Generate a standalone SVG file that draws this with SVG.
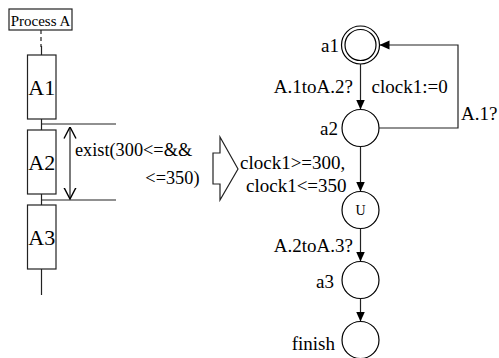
<svg xmlns="http://www.w3.org/2000/svg" width="499" height="358" viewBox="0 0 499 358">
  <defs>
    <marker id="arrowFill" viewBox="0 0 10 10" refX="10" refY="5" markerWidth="10" markerHeight="10" markerUnits="userSpaceOnUse" orient="auto">
      <path d="M0,0.5 L10,5 L0,9.5 Z" fill="#000"/>
    </marker>
    <marker id="arrowOpen" viewBox="0 0 12 14" refX="11.5" refY="7" markerWidth="12" markerHeight="14" markerUnits="userSpaceOnUse" orient="auto-start-reverse">
      <path d="M0,1 L11.5,7 L0,13" fill="none" stroke="#000" stroke-width="1.4"/>
    </marker>
  </defs>
  <style>
    .ln { stroke: #222; stroke-width: 1.2; fill: none; }
    .box { fill: #fff; stroke: #222; stroke-width: 1.2; }
    .st { fill: #fff; stroke: #000; stroke-width: 1.2; }
    .t { font-family: "Liberation Serif", "Times New Roman", serif; fill: #000; }
    .big { font-size: 22px; }
    .lab { font-size: 19px; }
    .sm { font-size: 14px; }
    .end { text-anchor: end; }
    .mid { text-anchor: middle; }
  </style>

  <rect width="499" height="358" fill="#fff"/>

  <!-- Lifeline of Process A -->
  <g id="lifeline">
    <line class="ln" x1="41" y1="30" x2="41" y2="47" stroke-dasharray="4,3"/>
    <line class="ln" x1="41.5" y1="46" x2="41.5" y2="295"/>
    <line class="ln" x1="41.5" y1="124" x2="116" y2="124"/>
    <line class="ln" x1="41.5" y1="200" x2="116" y2="200"/>
  </g>

  <g id="process-a">
    <rect class="box" x="9" y="9" width="63" height="21"/>
    <text class="t mid" x="40.5" y="25.5" font-size="15">Process A</text>
  </g>

  <g id="A1">
    <rect class="box" x="27.5" y="55" width="28.5" height="64"/>
    <text class="t big mid" x="41.7" y="95">A1</text>
  </g>
  <g id="A2">
    <rect class="box" x="27.5" y="130" width="28.5" height="64"/>
    <text class="t big mid" x="41.7" y="170">A2</text>
  </g>
  <g id="A3">
    <rect class="box" x="27.5" y="205" width="28.5" height="64"/>
    <text class="t big mid" x="41.7" y="245">A3</text>
  </g>

  <!-- Duration constraint on A2 -->
  <g id="duration">
    <line class="ln" x1="70" y1="127" x2="70" y2="199" marker-start="url(#arrowOpen)" marker-end="url(#arrowOpen)"/>
    <text class="t" x="75" y="156" font-size="18.3">exist(300&lt;=&amp;&amp;</text>
    <text class="t end" x="199.5" y="184" font-size="18.3">&lt;=350)</text>
  </g>

  <!-- Transformation arrow -->
  <g id="transform">
    <polygon class="box" points="213,153 220,153 220,137 238,169 220,200 220,184 213,184"/>
  </g>

  <!-- Automaton states -->
  <g id="a1">
    <circle class="st" cx="360.5" cy="45" r="19"/>
    <circle class="st" cx="360.5" cy="45" r="15.5"/>
    <text class="t lab end" x="339" y="52">a1</text>
  </g>
  <g id="a2">
    <circle class="st" cx="360.5" cy="128" r="18.5"/>
    <text class="t lab end" x="338" y="135">a2</text>
  </g>
  <g id="U">
    <circle class="st" cx="360.5" cy="210" r="18.5"/>
    <text class="t sm mid" x="360.5" y="215">U</text>
  </g>
  <g id="a3">
    <circle class="st" cx="360.5" cy="280" r="18.5"/>
    <text class="t lab end" x="334" y="288">a3</text>
  </g>
  <g id="finish">
    <circle class="st" cx="360.5" cy="340" r="18.5"/>
    <text class="t lab end" x="335" y="350">finish</text>
  </g>

  <!-- Transitions -->
  <g id="edges">
    <line class="ln" x1="360.5" y1="64" x2="360.5" y2="109.5" marker-end="url(#arrowFill)"/>
    <polyline class="ln" points="379,128 458,128 458,45 379.5,45" marker-end="url(#arrowFill)"/>
    <line class="ln" x1="360.5" y1="146.5" x2="360.5" y2="191.5" marker-end="url(#arrowFill)"/>
    <line class="ln" x1="360.5" y1="228.5" x2="360.5" y2="261.5" marker-end="url(#arrowFill)"/>
    <line class="ln" x1="360.5" y1="298.5" x2="360.5" y2="321.5" marker-end="url(#arrowFill)"/>
  </g>

  <!-- Transition labels -->
  <g id="labels">
    <text class="t lab end" x="353" y="93">A.1toA.2?</text>
    <text class="t lab" x="371.5" y="93">clock1:=0</text>
    <text class="t lab" x="461" y="120">A.1?</text>
    <text class="t lab" x="240" y="169">clock1&gt;=300,</text>
    <text class="t lab" x="246" y="192">clock1&lt;=350</text>
    <text class="t lab end" x="353" y="252">A.2toA.3?</text>
  </g>
</svg>
